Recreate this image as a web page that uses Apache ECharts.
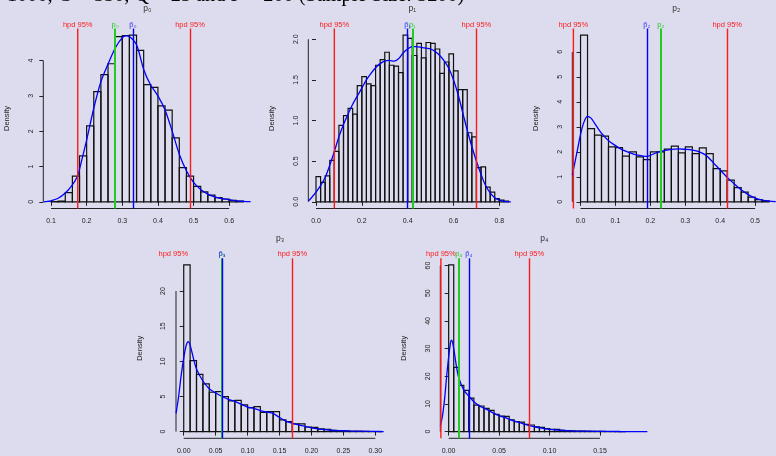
<!DOCTYPE html>
<html>
<head>
<meta charset="utf-8">
<script src="https://cdn.jsdelivr.net/npm/echarts@6/dist/echarts.min.js"></script>
<style>
  html, body { margin: 0; padding: 0; background: #dcdcee; }
  #main { width: 776px; height: 456px; }
</style>
</head>
<body>
<div id="main"></div>
<script>
// titles of the five panels
const panelNames = ['p\u2080', 'p\u2081', 'p\u2082', 'p\u2083', 'p\u2084'];
const estNames = ['p\u0302\u2080', 'p\u0302\u2081', 'p\u0302\u2082', 'p\u0302\u2083', 'p\u0302\u2084'];
const hpdText = 'hpd 95%';

// histogram bins (density scale)
const binStart = [0.10, 0.00, 0.00, 0.00, 0.00];
const binWidth = [0.02, 0.02, 0.02, 0.01, 0.005];
const dens0 = [0.01, 0.02, 0.26, 0.73, 1.30, 2.15, 3.12, 3.60, 3.91, 4.68, 4.71, 4.72, 4.29, 3.32,
  3.24, 2.72, 2.60, 1.81, 0.97, 0.73, 0.44, 0.28, 0.19, 0.12, 0.08, 0.04, 0.02];
const dens1 = [0.31, 0.24, 0.32, 0.51, 0.62, 0.94, 1.06, 1.15, 1.08, 1.43, 1.54, 1.45, 1.43, 1.68,
  1.75, 1.84, 1.68, 1.67, 1.59, 2.05, 2.01, 1.80, 1.95, 1.77, 1.96, 1.95, 1.88, 1.58, 1.72, 1.82,
  1.61, 1.38, 1.38, 0.85, 0.80, 0.42, 0.43, 0.18, 0.12, 0.04, 0.02, 0.01];
const dens2 = [6.67, 2.93, 2.67, 2.63, 2.20, 2.17, 1.83, 2.00, 1.80, 1.69, 2.00, 2.00, 2.11, 2.23,
  1.96, 2.20, 1.93, 2.16, 1.93, 1.33, 1.24, 0.87, 0.57, 0.39, 0.19, 0.09, 0.04];
const dens3 = [23.7, 10.1, 8.15, 6.8, 5.6, 5.7, 4.98, 4.36, 4.45, 3.8, 3.4, 3.55, 2.75, 2.84, 2.84,
  1.66, 1.42, 1.09, 1.09, 0.66, 0.6, 0.38, 0.33, 0.19, 0.12, 0.08, 0.05, 0.04, 0.03, 0.02, 0.01];
const dens4 = [60.2, 23.2, 16.7, 14.9, 12.1, 9.6, 9.25, 8.4, 7.7, 6.25, 5.65, 5.5, 4.3, 3.6, 3.4,
  2.6, 2.4, 1.7, 1.55, 1.1, 0.85, 0.8, 0.5, 0.35, 0.25, 0.2, 0.15, 0.12, 0.1, 0.08, 0.06, 0.05,
  0.04, 0.03, 0.02];

// kernel density curves
const kdeX0 = [0.079, 0.09, 0.10, 0.12, 0.14, 0.16, 0.175, 0.18, 0.20, 0.22, 0.24, 0.26, 0.28, 0.30,
  0.31, 0.32, 0.34, 0.36, 0.38, 0.40, 0.42, 0.44, 0.46, 0.48, 0.50, 0.52, 0.54, 0.56, 0.58, 0.60,
  0.62, 0.64, 0.66];
const kdeY0 = [0.0, 0.01, 0.03, 0.1, 0.25, 0.48, 0.74, 0.92, 1.75, 2.65, 3.4, 3.9, 4.35, 4.65,
  4.7, 4.68, 4.45, 3.75, 3.3, 3.0, 2.6, 2.0, 1.35, 0.88, 0.55, 0.35, 0.22, 0.14, 0.09, 0.06,
  0.03, 0.015, 0.005];
const kdeX1 = [-0.033, -0.02, 0.0, 0.02, 0.04, 0.06, 0.08, 0.10, 0.12, 0.14, 0.16, 0.18, 0.20, 0.22,
  0.24, 0.26, 0.28, 0.30, 0.32, 0.34, 0.36, 0.38, 0.40, 0.42, 0.44, 0.46, 0.48, 0.50, 0.52, 0.54,
  0.56, 0.58, 0.60, 0.62, 0.64, 0.66, 0.68, 0.70, 0.72, 0.74, 0.76, 0.78, 0.80, 0.82, 0.85];
const kdeY1 = [0.01, 0.05, 0.12, 0.2, 0.3, 0.45, 0.62, 0.8, 0.95, 1.08, 1.2, 1.3, 1.4, 1.5, 1.58,
  1.65, 1.7, 1.73, 1.74, 1.73, 1.76, 1.83, 1.88, 1.91, 1.91, 1.9, 1.89, 1.88, 1.85, 1.8, 1.73,
  1.64, 1.5, 1.32, 1.1, 0.88, 0.68, 0.5, 0.34, 0.2, 0.11, 0.05, 0.02, 0.005, 0.0];
const kdeX2 = [-0.0235, -0.01, 0.0, 0.01, 0.02, 0.03, 0.04, 0.06, 0.08, 0.10, 0.12, 0.14, 0.16,
  0.18, 0.19, 0.20, 0.22, 0.24, 0.26, 0.28, 0.30, 0.32, 0.34, 0.36, 0.38, 0.40, 0.42, 0.44, 0.46,
  0.48, 0.50, 0.52, 0.54, 0.559];
const kdeY2 = [1.07, 2.0, 2.7, 3.2, 3.42, 3.35, 3.15, 2.75, 2.45, 2.25, 2.08, 1.97, 1.88, 1.83,
  1.82, 1.86, 1.98, 2.05, 2.1, 2.12, 2.1, 2.07, 2.0, 1.85, 1.57, 1.27, 0.98, 0.72, 0.48, 0.29,
  0.15, 0.07, 0.03, 0.01];
const kdeX3 = [-0.012, -0.008, -0.004, 0.0, 0.004, 0.007, 0.01, 0.015, 0.02, 0.03, 0.04, 0.05, 0.06,
  0.07, 0.08, 0.09, 0.10, 0.11, 0.12, 0.13, 0.14, 0.15, 0.16, 0.17, 0.18, 0.19, 0.20, 0.21, 0.22,
  0.23, 0.24, 0.26, 0.28, 0.30, 0.313];
const kdeY3 = [2.6, 5.0, 8.0, 10.5, 12.3, 12.8, 12.3, 10.5, 8.9, 7.2, 6.1, 5.5, 5.0, 4.6, 4.3, 3.9,
  3.5, 3.3, 3.0, 2.8, 2.6, 2.0, 1.5, 1.2, 0.95, 0.75, 0.55, 0.4, 0.28, 0.2, 0.15, 0.1, 0.06,
  0.03, 0.01];
const kdeX4 = [-0.0082, -0.006, -0.004, -0.002, 0.0, 0.002, 0.003, 0.005, 0.0075, 0.01, 0.015, 0.02,
  0.025, 0.03, 0.035, 0.04, 0.045, 0.05, 0.055, 0.06, 0.065, 0.07, 0.075, 0.08, 0.085, 0.09,
  0.095, 0.10, 0.11, 0.12, 0.13, 0.14, 0.15, 0.17, 0.197];
const kdeY4 = [2.0, 6, 12, 20, 27, 32.5, 33, 30, 24, 19.5, 15, 12.8, 10.8, 9.4, 8.5, 7.6, 6.6, 5.8,
  5.2, 4.5, 3.8, 3.3, 2.7, 2.2, 1.8, 1.4, 1.1, 0.85, 0.5, 0.3, 0.2, 0.15, 0.1, 0.05, 0.01];

// vertical reference lines
const hpdLow = [0.175, 0.08, -0.0205, -0.0163, -0.0077];
const hpdHigh = [0.486, 0.704, 0.417, 0.173, 0.082];
const trueP = [0.284, 0.42, 0.233, 0.058, 0.005];
const estP = [0.329, 0.40, 0.19, 0.0595, 0.024];

// axis ticks
const xTicks = [
  [0.1, 0.2, 0.3, 0.4, 0.5, 0.6],
  [0.0, 0.2, 0.4, 0.6, 0.8],
  [0.0, 0.1, 0.2, 0.3, 0.4, 0.5],
  [0.00, 0.05, 0.10, 0.15, 0.20, 0.25, 0.30],
  [0.00, 0.05, 0.10, 0.15]
];
const xDigits = [1, 1, 1, 2, 2];
const yTicks = [
  [0, 1, 2, 3, 4],
  [0.0, 0.5, 1.0, 1.5, 2.0],
  [0, 1, 2, 3, 4, 5, 6],
  [0, 5, 10, 15, 20],
  [0, 10, 20, 30, 40, 50, 60]
];
const yDigits = [0, 1, 0, 0, 0];

const mainTitle = '1000, G = 350, Q = 25 and P = 200 (Sample Size: 5200)';

const densAll = [dens0, dens1, dens2, dens3, dens4];
const kdeXAll = [kdeX0, kdeX1, kdeX2, kdeX3, kdeX4];
const kdeYAll = [kdeY0, kdeY1, kdeY2, kdeY3, kdeY4];

// plot regions
const layout = [
  { left: 43.3, top: 28.5, xMin: 0.0784, xMax: 0.662 },
  { left: 308.3, top: 28.5, xMin: -0.0336, xMax: 0.874 },
  { left: 572.3, top: 28.5, xMin: -0.0236, xMax: 0.5597 },
  { left: 176, top: 258.3, xMin: -0.0121, xMax: 0.3136 },
  { left: 440.3, top: 258.3, xMin: -0.0083, xMax: 0.1979 }
];
const plotW = 208;
const plotH = 180;

const FONT = '"Liberation Sans", Arial, "DejaVu Sans", sans-serif';
const INK = '#222';
const RED = '#ff1a1a';
const GREEN = '#22cc22';
const BLUE = '#0000ff';
const LABEL_SIZE = 7.5;

const yRange = densAll.map(d => {
  const m = Math.max(...d);
  return [-0.04 * m, 1.04 * m];
});

const grids = [], xAxes = [], yAxes = [], titles = [], series = [];

layout.forEach((L, i) => {
  grids.push({ left: L.left, top: L.top, width: plotW, height: plotH });

  xAxes.push({
    type: 'value', gridIndex: i, min: L.xMin, max: L.xMax,
    axisLine: { show: false },
    splitLine: { show: false },
    axisTick: { show: true, length: 4, customValues: xTicks[i], lineStyle: { color: INK, width: 1 } },
    axisLabel: {
      show: true, customValues: xTicks[i], margin: 9, fontSize: 7, color: INK, fontFamily: FONT,
      formatter: v => v.toFixed(xDigits[i])
    }
  });

  yAxes.push({
    type: 'value', gridIndex: i, min: yRange[i][0], max: yRange[i][1],
    name: 'Density', nameLocation: 'middle', nameGap: 32, nameRotate: 90,
    nameTextStyle: { fontSize: 7.5, color: INK, fontFamily: FONT },
    axisLine: { show: false },
    splitLine: { show: false },
    axisTick: { show: true, length: 4, customValues: yTicks[i], lineStyle: { color: INK, width: 1 } },
    axisLabel: {
      show: true, customValues: yTicks[i], margin: 9, fontSize: 7, color: INK, fontFamily: FONT,
      rotate: 90, formatter: v => v.toFixed(yDigits[i])
    }
  });

  titles.push({
    text: panelNames[i], left: L.left + plotW / 2, top: L.top - 24, textAlign: 'center', padding: 0,
    textStyle: { fontSize: 8.5, fontWeight: 'normal', color: '#333', fontFamily: FONT }
  });

  const d = densAll[i];
  series.push({
    type: 'custom', xAxisIndex: i, yAxisIndex: i, silent: true, clip: true, z: 2,
    data: d.map((h, k) => [binStart[i] + k * binWidth[i], binStart[i] + (k + 1) * binWidth[i], h]),
    renderItem: (params, api) => {
      const p0 = api.coord([api.value(0), 0]);
      const p1 = api.coord([api.value(1), api.value(2)]);
      return {
        type: 'rect',
        shape: { x: p0[0], y: p1[1], width: p1[0] - p0[0], height: p0[1] - p1[1] },
        style: { fill: 'none', stroke: '#111', lineWidth: 1.2 }
      };
    }
  });

  const lineLabel = (text, color) => ({
    show: true, position: 'end', distance: 0, formatter: text, color: color,
    fontSize: LABEL_SIZE, fontFamily: FONT
  });

  series.push({
    type: 'line', xAxisIndex: i, yAxisIndex: i, silent: true, clip: false,
    smooth: 0.3, showSymbol: false, z: 5,
    lineStyle: { color: BLUE, width: 1.3 },
    data: kdeXAll[i].map((x, k) => [x, kdeYAll[i][k]]),
    markLine: {
      silent: true, symbol: ['none', 'none'], animation: false, z: 6,
      data: [
        { xAxis: hpdHigh[i], lineStyle: { color: RED, width: 1.4, type: 'solid' }, label: lineLabel(hpdText, RED) },
        { xAxis: trueP[i], lineStyle: { color: GREEN, width: 2, type: 'solid' }, label: lineLabel(panelNames[i], GREEN) },
        { xAxis: estP[i], lineStyle: { color: BLUE, width: 1.4, type: 'solid' }, label: lineLabel(estNames[i], '#3333ff') }
      ]
    }
  });
});

const chart = echarts.init(document.getElementById('main'));
chart.setOption({
  backgroundColor: '#dcdcee',
  animation: false,
  title: titles,
  grid: grids,
  xAxis: xAxes,
  yAxis: yAxes,
  series: series
});

// R style axis lines: only from the first to the last tick
const graphics = [{
  type: 'text', left: 7, top: -14, z: 0,
  style: { text: mainTitle, font: '20.3px "Liberation Serif", "Times New Roman", serif', fill: '#000' }
}];
layout.forEach((L, i) => {
  const xt = xTicks[i], yt = yTicks[i];
  const xa = chart.convertToPixel({ gridIndex: i }, [xt[0], yRange[i][0]]);
  const xb = chart.convertToPixel({ gridIndex: i }, [xt[xt.length - 1], yRange[i][0]]);
  const ya = chart.convertToPixel({ gridIndex: i }, [L.xMin, yt[0]]);
  const yb = chart.convertToPixel({ gridIndex: i }, [L.xMin, yt[yt.length - 1]]);
  graphics.push({ type: 'line', silent: true, z: 0, shape: { x1: xa[0], y1: xa[1], x2: xb[0], y2: xb[1] }, style: { stroke: INK, lineWidth: 1 } });
  graphics.push({ type: 'line', silent: true, z: 0, shape: { x1: ya[0], y1: ya[1], x2: yb[0], y2: yb[1] }, style: { stroke: INK, lineWidth: 1 } });

  // lower hpd bound sits at the left edge: the line is clipped to the plot region, the label is not
  const lo = chart.convertToPixel({ gridIndex: i }, [hpdLow[i], yRange[i][0]]);
  const hi = chart.convertToPixel({ gridIndex: i }, [hpdLow[i], yRange[i][1]]);
  if (hpdLow[i] >= L.xMin) {
    graphics.push({ type: 'line', silent: true, z: 10, shape: { x1: lo[0], y1: lo[1], x2: hi[0], y2: hi[1] }, style: { stroke: RED, lineWidth: 1.4 } });
  }
  graphics.push({
    type: 'text', silent: true, z: 10, x: hi[0], y: hi[1],
    style: { text: hpdText, fill: RED, font: LABEL_SIZE + 'px ' + FONT, align: 'center', verticalAlign: 'bottom' }
  });
});
chart.setOption({ graphic: graphics });
</script>
</body>
</html>
